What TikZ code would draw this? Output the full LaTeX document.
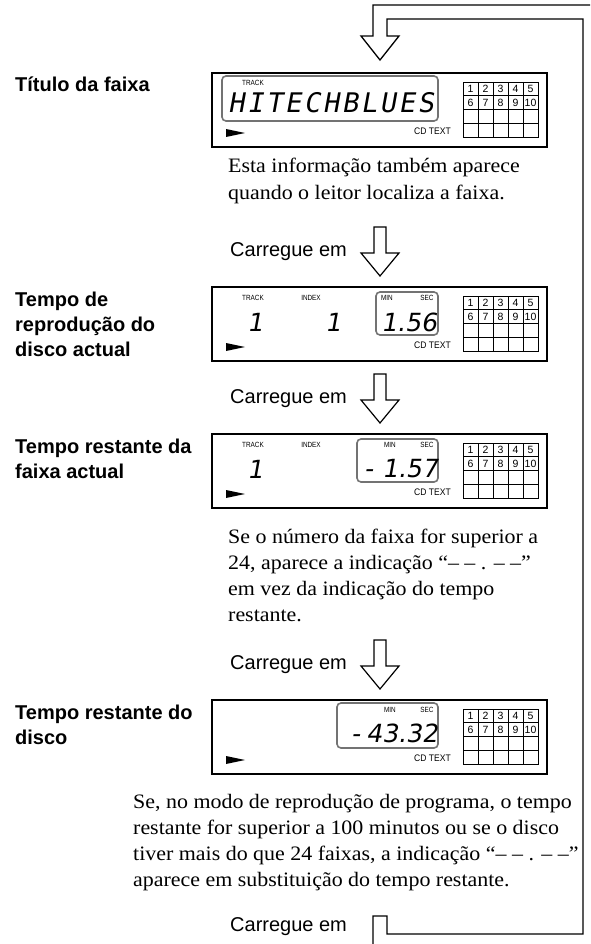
\documentclass[tikz,border=0pt]{standalone}
\usepackage{fontspec}
\setmainfont{Liberation Serif}
\newfontfamily\labfont{Liberation Sans}
\newfontfamily\segfont{DejaVu Sans}[FakeSlant=0.18]
\newfontfamily\segmonofont{DejaVu Sans Mono}[FakeSlant=0.18,LetterSpace=10]
\newfontfamily\parafont{Liberation Serif}[FakeStretch=1.07]
\newcommand\dispframe{%
  \draw[lcdbox] (212,0) rectangle (547,74);
  \fill (226,56) -- (245,60) -- (226,64) -- cycle;
  \node[small9] (cdt) at (432.5,58) {\scalebox{0.9}[1]{CD TEXT}};
  \draw[gridline] (463,9) rectangle (538,64);
  \foreach \i in {1,...,4} \draw[gridline] (463+15*\i,9) -- (463+15*\i,64);
  \foreach \j in {1,2,3} \draw[gridline] (463,9+13.75*\j) -- (538,9+13.75*\j);
  \foreach \n [count=\c from 0] in {1,...,5} \node[gridnum] (g\n) at (470.5+15*\c,16) {\n};
  \foreach \n [count=\c from 0] in {6,...,10} \node[gridnum] (g\n) at (470.5+15*\c,29.8) {\n};
}
\newcommand\pressarrow{%
  \draw[arr] (374,-60) -- (386,-60) -- (386,-34) -- (399,-34) -- (380,-11) -- (361,-34) -- (374,-34) -- cycle;
}
\begin{document}
\begin{tikzpicture}[x=1pt,y=-1pt,
  lab/.style={anchor=base west,inner sep=0pt,font=\labfont\bfseries\fontsize{20}{25}\selectfont},
  press/.style={anchor=base west,inner sep=0pt,font=\labfont\fontsize{20}{24}\selectfont},
  para/.style={anchor=base west,inner sep=0pt,font=\parafont\fontsize{20.5}{26}\selectfont},
  lcdbox/.style={draw=black,line width=1.8pt},
  lcdwin/.style={draw=black!55,line width=1.6pt,rounded corners=4pt},
  gridline/.style={draw=black,line width=0.8pt},
  gridnum/.style={inner sep=0pt,font=\labfont\fontsize{10.5}{11}\selectfont},
  small7/.style={inner sep=0pt,font=\labfont\fontsize{7.5}{8}\selectfont},
  small9/.style={inner sep=0pt,font=\labfont\fontsize{9.5}{10}\selectfont},
  seg/.style={inner sep=0pt,font=\segfont\fontsize{25}{26}\selectfont},
  segtext/.style={inner sep=0pt,font=\segmonofont\fontsize{27}{28}\selectfont},
  arr/.style={draw=black,fill=white,line width=1.2pt,line join=miter},
  loopline/.style={draw=black,line width=1.3pt,line join=miter}]
\useasboundingbox (0,0) rectangle (590,944);
\fill[white] (0,0) rectangle (590,944);

% return loop
\coordinate (b1) at (373,944);
\coordinate (b2) at (373,916);
\coordinate (b3) at (387,916);
\coordinate (b4) at (387,934);
\coordinate (r1) at (583,934);
\coordinate (r2) at (583,19);
\coordinate (t1) at (387,19);
\coordinate (h1) at (387,36);
\coordinate (h2) at (399,36);
\coordinate (tip) at (380,60);
\coordinate (h3) at (361,36);
\coordinate (h4) at (373,36);
\coordinate (t2) at (373,5);
\coordinate (t3) at (590,5);
\draw[loopline] (b1) -- (b2) -- (b3) -- (b4) -- (r1) -- (r2) -- (t1) -- (h1) -- (h2) -- (tip) -- (h3) -- (h4) -- (t2) -- (t3);

% ---- display 1
\node[lab] (l1) at (15,92) {Título da faixa};
\begin{scope}[shift={(0,73)},name prefix=d1-]
  \dispframe
  \draw[lcdwin] (222,3) rectangle (438,48);
  \node[small7] (track) at (253,10) {\scalebox{0.85}[1]{TRACK}};
  \node[segtext] (title) at (331,30) {HITECHBLUES};
\end{scope}
\node[para] (p1) at (228,173) {\vtop{\hbox{Esta informação também aparece}\hbox{quando o leitor localiza a faixa.}}};

% ---- press 1
\begin{scope}[shift={(0,287)},name prefix=c1-]
  \node[press] (txt) at (230,-31) {Carregue em};
  \pressarrow
\end{scope}

% ---- display 2
\node[lab] (l2) at (15,306) {\vtop{\hbox{Tempo de}\hbox{reprodução do}\hbox{disco actual}}};
\begin{scope}[shift={(0,287)},name prefix=d2-]
  \dispframe
  \draw[lcdwin] (376,5) rectangle (438,48);
  \node[small7] (track) at (253,11) {\scalebox{0.85}[1]{TRACK}};
  \node[small7] (index) at (311,11) {\scalebox{0.85}[1]{INDEX}};
  \node[small7] (min) at (387,11) {\scalebox{0.85}[1]{MIN}};
  \node[small7] (sec) at (427,11) {\scalebox{0.85}[1]{SEC}};
  \node[seg] (tr) at (255,35) {1};
  \node[seg] (ix) at (333,35) {1};
  \node[seg] (time) at (409,35) {1.56};
\end{scope}

% ---- press 2
\begin{scope}[shift={(0,434)},name prefix=c2-]
  \node[press] (txt) at (230,-31) {Carregue em};
  \pressarrow
\end{scope}

% ---- display 3
\node[lab] (l3) at (15,453) {\vtop{\hbox{Tempo restante da}\hbox{faixa actual}}};
\begin{scope}[shift={(0,434)},name prefix=d3-]
  \dispframe
  \draw[lcdwin] (357,5) rectangle (438,48);
  \node[small7] (track) at (253,11) {\scalebox{0.85}[1]{TRACK}};
  \node[small7] (index) at (311,11) {\scalebox{0.85}[1]{INDEX}};
  \node[small7] (min) at (390,11) {\scalebox{0.85}[1]{MIN}};
  \node[small7] (sec) at (427,11) {\scalebox{0.85}[1]{SEC}};
  \node[seg] (tr) at (255,35) {1};
  \node[seg,anchor=east] (time) at (438,35) {-\hspace{9pt}1.57};
\end{scope}
\node[para] (p3) at (228,543) {\vtop{\hbox{Se o número da faixa for superior a}\hbox{24, aparece a indicação “– – . – –”}\hbox{em vez da indicação do tempo}\hbox{restante.}}};

% ---- press 3
\begin{scope}[shift={(0,700)},name prefix=c3-]
  \node[press] (txt) at (230,-31) {Carregue em};
  \pressarrow
\end{scope}

% ---- display 4
\node[lab] (l4) at (15,719) {\vtop{\hbox{Tempo restante do}\hbox{disco}}};
\begin{scope}[shift={(0,700)},name prefix=d4-]
  \dispframe
  \draw[lcdwin] (337,3) rectangle (438,48);
  \node[small7] (min) at (390,10) {\scalebox{0.85}[1]{MIN}};
  \node[small7] (sec) at (427,10) {\scalebox{0.85}[1]{SEC}};
  \node[seg,anchor=east] (time) at (438,33) {-\hspace{6pt}43.32};
\end{scope}
\node[para] (p4) at (133,808) {\vtop{\hbox{Se, no modo de reprodução de programa, o tempo}\hbox{restante for superior a 100 minutos ou se o disco}\hbox{tiver mais do que 24 faixas, a indicação “– – . – –”}\hbox{aparece em substituição do tempo restante.}}};

% ---- press 4
\node[press] (c4-txt) at (230,931) {Carregue em};
\end{tikzpicture}
\end{document}
